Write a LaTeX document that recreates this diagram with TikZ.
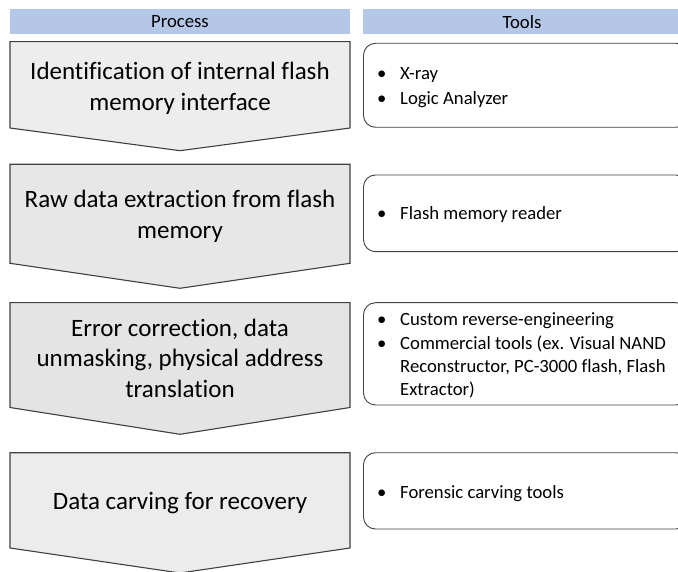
\documentclass[tikz,border=0pt]{standalone}
\usepackage{fontspec}
\setmainfont{Carlito}[Ligatures=NoCommon]
\usepackage{array}

\definecolor{hdrblue}{HTML}{B4C7E7}
\definecolor{edge}{HTML}{404040}
\definecolor{stepA}{HTML}{EDEDED}
\definecolor{stepB}{HTML}{E7E7E7}
\definecolor{stepC}{HTML}{E4E4E4}
\definecolor{stepD}{HTML}{ECECEC}

% bulleted list: bullet column, then the text column
\newcommand{\toollist}[1]{\begin{tabular}{@{}p{23pt}@{}l@{}}#1\end{tabular}}

\tikzset{
  hdrbar/.style={fill=hdrblue, draw=none},
  hdrtext/.style={font=\fontsize{18.7}{22}\selectfont, inner sep=0pt},
  chev/.style={draw=edge, line width=1.1pt, line join=miter},
  toolbox/.style={draw=edge, line width=0.9pt, fill=white, rounded corners=12pt},
  steptext/.style={font=\fontsize{25}{31}\selectfont, align=center, inner sep=0pt},
  tooltext/.style={font=\fontsize{18.7}{25}\selectfont, anchor=west, inner sep=0pt},
}

\begin{document}
\begin{tikzpicture}[x=1pt, y=-1pt]
\useasboundingbox (0,0) rectangle (678,572);
\begin{scope}
\clip (0,0) rectangle (678,572);

% column headers
\fill[hdrbar] (10,9.3) rectangle (350,34.3);
\fill[hdrbar] (363,9.3) rectangle (690,34.3);
\node[hdrtext] (hdrP) at (180,21.8) {Process};
\node[hdrtext] (hdrT) at (522,21.8) {Tools};

% process steps (chevrons)
\filldraw[chev, fill=stepA] (10,41.7) -- (350,41.7) -- (350,128) -- (180,150.7) -- (10,128) -- cycle;
\filldraw[chev, fill=stepB] (10,164.3) -- (350,164.3) -- (350,263.3) -- (180,288.3) -- (10,263.3) -- cycle;
\filldraw[chev, fill=stepC] (10,302.7) -- (350,302.7) -- (350,407.5) -- (180,434.3) -- (10,407.5) -- cycle;
\filldraw[chev, fill=stepD] (10,452.7) -- (350,452.7) -- (350,548) -- (180,573) -- (10,548) -- cycle;

\node[steptext] (p1) at (180,88) {Identification of internal flash\\memory interface};
\node[steptext] (p2) at (180,216) {Raw data extraction from flash\\memory};
\node[steptext, font=\fontsize{25}{30.5}\selectfont] (p3) at (180,358) {Error correction, data\\unmasking, physical address\\translation};
\node[steptext] (p4) at (180,503) {Data carving for recovery};

% tool boxes
\draw[toolbox] (363.5,43.3) rectangle (688,127.3);
\draw[toolbox] (363.5,175) rectangle (688,251.7);
\draw[toolbox] (363.5,302.7) rectangle (688,405);
\draw[toolbox] (363.5,452.7) rectangle (688,529);

\node[tooltext] (t1) at (377,87) {\toollist{\textbullet & X-ray\\ \textbullet & Logic Analyzer}};
\node[tooltext] (t2) at (377,214.5) {\toollist{\textbullet & Flash memory reader}};
\node[tooltext, font=\fontsize{18.7}{23.3}\selectfont] (t3) at (377,356) {\toollist{\textbullet & Custom reverse-engineering\\ \textbullet & Commercial tools (ex. Visual NAND\\ & Reconstructor, PC-3000 flash, Flash\\ & Extractor)}};
\node[tooltext] (t4) at (377,493) {\toollist{\textbullet & Forensic carving tools}};
\end{scope}
\end{tikzpicture}
\end{document}
